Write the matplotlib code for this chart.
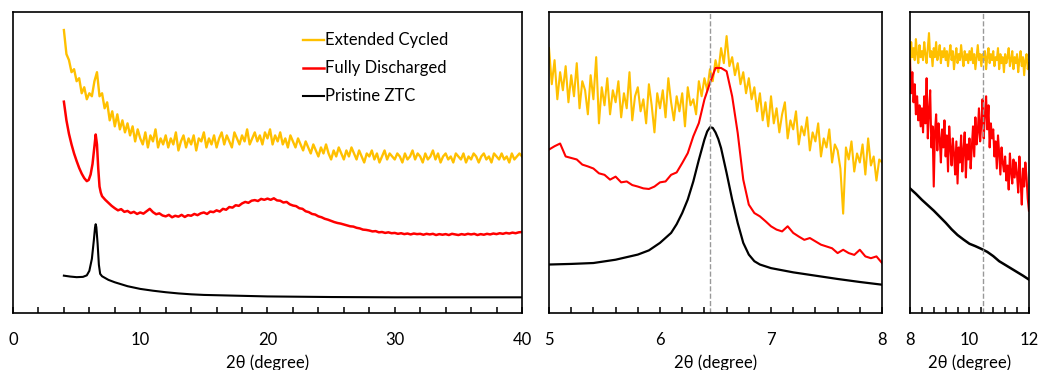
import numpy as np
import matplotlib
matplotlib.use("Agg")
import matplotlib.pyplot as plt
from matplotlib.ticker import MultipleLocator

plt.rcParams['font.family'] = ['Lato', 'DejaVu Sans']

YELLOW = '#FFC000'
RED = '#FF0000'
BLACK = '#000000'

# ---- panel 1: full range 4-40 deg (intensity in arbitrary units, 0-100) ----
p1_black_x = [4.0, 4.5, 5.0, 5.5, 5.8, 6.0, 6.2, 6.35, 6.45, 6.5, 6.55, 6.65, 6.75, 6.85,
              7.0, 7.5, 8, 9, 10, 11, 12, 13, 14, 15, 17, 20, 25, 30, 35, 40]
p1_black_y = [12.4, 12.1, 11.9, 12.0, 12.5, 14, 18, 24, 28.5, 29.5, 28.5, 23, 16, 13,
              12.2, 11, 10.2, 8.9, 8.0, 7.4, 6.9, 6.5, 6.2, 6.0, 5.8, 5.5, 5.3, 5.2, 5.2, 5.2]

p1_red_head_x = [4.0, 4.2, 4.4, 4.6, 4.8, 5.0, 5.2, 5.4, 5.6, 5.8, 5.95, 6.1, 6.25, 6.4,
                 6.5, 6.6, 6.7, 6.8, 6.9, 7.0, 7.25, 7.5, 7.75]
p1_red_head_y = [70.2, 64, 59.5, 56, 53, 50.5, 48.2, 46.3, 44.8, 43.8, 44.2, 46, 49.5, 55.5,
                 59.3, 56, 48, 42, 40, 38.8, 37.6, 36.6, 35.6]
# 8 -> 40 every 0.25
p1_red_tail_y = [
    34.8, 34.1, 34.5, 33.6, 33.9, 33.2, 33.6, 32.9,
    33.4, 33.0, 33.8, 34.6, 33.5, 32.8, 33.1, 32.4,
    32.1, 32.6, 31.8, 32.3, 32.0, 32.6, 31.9, 32.5,
    32.3, 32.9, 32.5, 33.1, 33.4, 32.9, 33.7, 33.5,
    34.1, 33.7, 34.6, 34.3, 35.2, 35.0, 35.8, 35.6,
    36.4, 36.9, 36.6, 37.3, 37.5, 37.2, 37.9, 37.6,
    38.0, 37.6, 38.1, 37.4, 37.3, 36.7, 36.9, 36.1,
    35.7, 35.5, 34.8, 34.6, 33.8, 33.5, 32.9, 32.7,
    32.1, 31.8, 31.3, 31.0, 30.6, 30.2, 29.9, 29.7,
    29.4, 29.1, 28.8, 28.7, 28.3, 28.1, 27.7, 27.6,
    27.4, 27.1, 27.2, 26.8, 26.9, 26.6, 26.8, 26.5,
    26.6, 26.3, 26.5, 26.2, 26.4, 26.1, 26.4, 26.2,
    26.3, 26.0, 26.3, 26.1, 26.3, 25.9, 26.2, 26.0,
    26.2, 25.9, 26.3, 26.1, 25.9, 26.2, 26.0, 26.3,
    26.1, 26.3, 25.9, 26.2, 26.0, 26.3, 26.1, 26.4,
    26.2, 26.5, 26.3, 26.6, 26.4, 26.7, 26.5, 26.8,
    26.9]

# 4 -> 40 every 0.2
p1_yellow_y = [
    94, 86, 84, 80, 81, 77, 78, 73, 75, 71,
    73, 72, 77, 80, 72, 73, 68, 70, 64, 67,
    62, 66, 61, 64, 60, 63, 59, 62, 57, 61,
    58, 56, 60, 55, 59, 57, 61, 55, 58, 56,
    59, 55, 58, 56, 60, 54, 57, 59, 55, 58,
    56, 59, 54, 58, 57, 60, 55, 58, 56, 59,
    55, 58, 60, 56, 59, 57, 55, 60, 58, 56,
    59, 57, 61, 56, 58, 60, 57, 59, 56, 60,
    58, 61, 56, 59, 57, 60, 56, 58, 55, 59,
    57, 55, 58, 56, 54, 57, 55, 53, 56, 54,
    52, 55, 53, 56, 53, 51, 54, 52, 55, 53,
    51, 54, 52, 55, 53, 51, 54, 52, 50, 53,
    52, 54, 51, 53, 50, 52, 54, 51, 53, 52,
    51, 53, 52, 50, 53, 51, 52, 54, 51, 53,
    52, 50, 53, 51, 52, 54, 51, 53, 50, 52,
    53, 51, 52, 50, 53, 52, 51, 53, 50, 52,
    51, 53, 52, 50, 52, 53, 51, 52, 50, 53,
    52, 51, 53, 51, 52, 50, 53, 51, 52, 53,
    52]

# ---- panel 2: zoom 5-8 deg ----
p2_black_x = [5.0, 5.2, 5.4, 5.6, 5.8, 5.9, 6.0, 6.1, 6.15, 6.2, 6.25, 6.3, 6.35, 6.4, 6.425,
              6.45, 6.475, 6.5, 6.525, 6.55, 6.6, 6.65, 6.7, 6.75, 6.8, 6.85, 6.9, 7.0, 7.2,
              7.4, 7.6, 7.8, 8.0]
p2_black_y = [16.1, 16.3, 16.6, 17.7, 19.4, 20.8, 23.3, 26.6, 29.5, 33.2, 37.7, 43.7, 50.9, 57.6, 60.3,
              61.7, 61.5, 60.0, 57.8, 54.8, 46.5, 37.7, 29.9, 23.3, 19.4, 17.2, 16.1, 14.9, 13.5,
              12.4, 11.3, 10.3, 9.4]
# 5 -> 8 every 0.05
p2_red_y = [
    54.3, 55.4, 56.3, 52.0, 51.5, 51.0, 49.3, 48.7, 48.0, 46.4,
    45.9, 44.3, 45.3, 43.4, 43.7, 42.5, 42.0, 41.4, 41.2, 42.0,
    43.4, 43.7, 45.9, 46.7, 49.8, 53.1, 58.7, 63.1, 70.9, 76.4,
    81.4, 81.4, 80.3, 72.0, 59.8, 44.3, 36.0, 33.2, 32.1, 30.5,
    28.8, 27.7, 27.1, 28.8, 26.6, 25.4, 24.3, 24.9, 23.8, 22.7,
    22.1, 21.5, 19.9, 21.0, 19.9, 19.3, 21.0, 18.8, 18.2, 18.8,
    16.6]
# 5 -> 8 every 0.025
p2_yellow_y = [
    88, 76, 84, 71, 80, 74, 82, 70,
    79, 72, 83, 68, 77, 74, 66, 79,
    71, 85, 63, 75, 69, 78, 66, 74,
    70, 77, 65, 73, 68, 80, 64, 72,
    75, 67, 71, 63, 76, 69, 60, 73,
    68, 74, 65, 78, 70, 64, 72, 67,
    73, 62, 75, 69, 71, 66, 77, 72,
    78, 74, 81, 77, 84, 80, 88, 83,
    92, 82, 85, 79, 83, 76, 80, 73,
    78, 71, 75, 67, 73, 64, 70, 62,
    72, 63, 68, 60, 66, 70, 58, 64,
    61, 67, 56, 62, 59, 65, 54, 60,
    57, 63, 52, 58, 55, 61, 50, 56,
    54, 48, 33, 55, 51, 57, 47, 53,
    50, 56, 46, 58, 49, 52, 44, 51,
    50]

# ---- panel 3: zoom 8-12 deg ----
# 8 -> 12 every 0.2
p3_black_y = [41.4, 39.6, 37.6, 35.8, 34.0, 32.0, 30.0, 27.8, 25.9, 24.4, 23.0,
              22.2, 21.3, 20.3, 18.9, 17.2, 16.0, 14.8, 13.6, 12.4, 11.1]
# 8 -> 12 every 0.04
p3_red_y = [
    84, 73, 80, 70, 76, 66, 72, 64, 69, 62,
    68, 60, 72, 63, 78, 58, 67, 74, 55, 62,
    42, 60, 66, 54, 63, 58, 50, 61, 55, 64,
    52, 59, 47, 62, 55, 49, 58, 53, 46, 57,
    43, 55, 50, 59, 47, 54, 60, 45, 56, 51,
    58, 48, 55, 62, 52, 65, 56, 60, 68, 57,
    63, 71, 58, 66, 72, 61, 69, 55, 63, 58,
    61, 52, 57, 48, 59, 53, 46, 55, 50, 47,
    52, 44, 49, 41, 53, 47, 43, 51, 45, 50,
    46, 40, 52, 44, 36, 48, 42, 50, 45, 38,
    34]
p3_yellow_y = [
    82, 90, 85, 88, 84, 91, 86, 83, 89, 85,
    87, 84, 90, 86, 83, 88, 93, 85, 87, 82,
    88, 85, 90, 84, 86, 89, 83, 87, 85, 88,
    84, 87, 82, 86, 89, 84, 87, 81, 85, 88,
    83, 86, 84, 89, 85, 82, 87, 84, 86, 83,
    87, 84, 88, 83, 86, 81, 85, 89, 84, 86,
    82, 86, 84, 87, 81, 85, 88, 83, 86, 84,
    87, 82, 85, 84, 88, 81, 86, 83, 85, 80,
    86, 83, 85, 88, 82, 84, 87, 81, 85, 83,
    86, 80, 84, 87, 82, 85, 79, 84, 86, 81,
    83]

peak_pos = [6.45, 10.45]

p1_red_x = list(p1_red_head_x) + list(np.linspace(8, 40, len(p1_red_tail_y)))
p1_red_y = list(p1_red_head_y) + list(p1_red_tail_y)
p1_yellow_x = np.linspace(4, 40, len(p1_yellow_y))
p2_red_x = np.linspace(5, 8, len(p2_red_y))
p2_yellow_x = np.linspace(5, 8, len(p2_yellow_y))
p3_black_x = np.linspace(8, 12, len(p3_black_y))
p3_red_x = np.linspace(8, 12, len(p3_red_y))
p3_yellow_x = np.linspace(8, 12, len(p3_yellow_y))

fig = plt.figure(figsize=(10.39, 3.70), dpi=100)
ax1 = fig.add_axes([0.0125, 0.1541, 0.4899, 0.8135])
ax2 = fig.add_axes([0.5284, 0.1541, 0.3205, 0.8135])
ax3 = fig.add_axes([0.8758, 0.1541, 0.1145, 0.8135])

ax1.plot(p1_yellow_x, p1_yellow_y, color=YELLOW, lw=1.7, label='Extended Cycled')
ax1.plot(p1_red_x, p1_red_y, color=RED, lw=1.8, label='Fully Discharged')
ax1.plot(p1_black_x, p1_black_y, color=BLACK, lw=1.5, label='Pristine ZTC')

ax2.plot(p2_yellow_x, p2_yellow_y, color=YELLOW, lw=1.5)
ax2.plot(p2_red_x, p2_red_y, color=RED, lw=1.5)
ax2.plot(p2_black_x, p2_black_y, color=BLACK, lw=1.6)
ax2.axvline(peak_pos[0], color='#999999', ls='--', lw=1)

ax3.plot(p3_yellow_x, p3_yellow_y, color=YELLOW, lw=1.5)
ax3.plot(p3_red_x, p3_red_y, color=RED, lw=1.5)
ax3.plot(p3_black_x, p3_black_y, color=BLACK, lw=1.8)
ax3.axvline(peak_pos[1], color='#999999', ls='--', lw=1)

limits = [(0, 40, 10, 2), (5, 8, 1, 0.2), (8, 12, 2, 0.4)]
for ax, (lo, hi, major, minor) in zip([ax1, ax2, ax3], limits):
    ax.set_xlim(lo, hi)
    ax.set_ylim(0, 100)
    ax.set_yticks([])
    ax.xaxis.set_major_locator(MultipleLocator(major))
    ax.xaxis.set_minor_locator(MultipleLocator(minor))
    ax.tick_params(axis='x', which='both', direction='in', length=4, width=1.1,
                   pad=14, labelsize=12, colors='black')
    for sp in ax.spines.values():
        sp.set_linewidth(1.2)
    ax.set_xlabel('2θ (degree)', fontsize=12, labelpad=4)

ax1.legend(loc='upper left', bbox_to_anchor=(0.553, 0.96), frameon=False,
           handlelength=1.3, handletextpad=0.05, labelspacing=0.72,
           borderpad=0, fontsize=12)

fig.savefig('out.png', dpi=100)
